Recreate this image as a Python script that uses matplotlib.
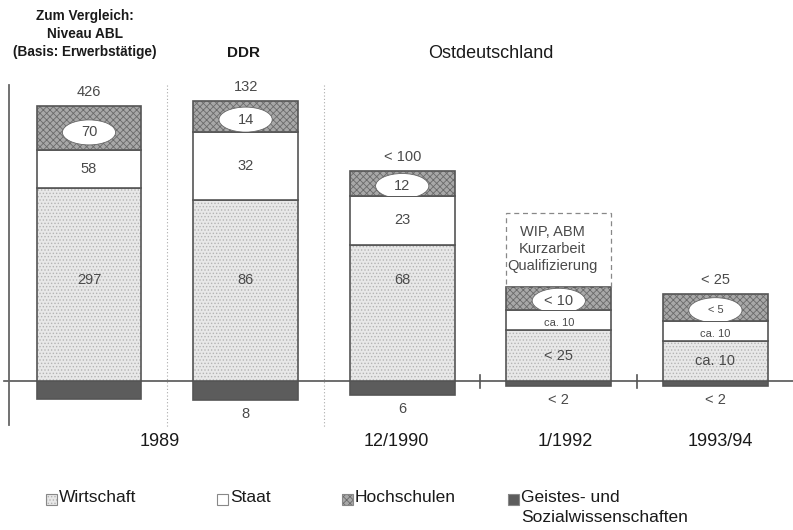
import matplotlib.pyplot as plt
from matplotlib.patches import Rectangle, Ellipse

plt.rcParams['font.family'] = ['Liberation Sans', 'DejaVu Sans']
plt.rcParams['hatch.linewidth'] = 0.6

# Säulen: Niveau ABL 1989, DDR 1989, 12/1990, 1/1992, 1993/94
# Höhen sind schematisch (Grafik nicht maßstäblich), Beschriftungen = Werte in Tsd.
wirtschaft_h = [193, 181, 136, 51, 40]
staat_h = [38, 68, 49, 20, 20]
hochschulen_h = [44, 31, 25, 23, 27]
gsw_h = [18, 19, 14, 5, 5]
sonstige_h = [0, 0, 0, 74, 0]   # WIP, ABM, Kurzarbeit, Qualifizierung

gesamt_lbl = ['426', '132', '< 100', '', '< 25']
wirtschaft_lbl = ['297', '86', '68', '< 25', 'ca. 10']
staat_lbl = ['58', '32', '23', 'ca. 10', 'ca. 10']
hochschulen_lbl = ['70', '14', '12', '< 10', '< 5']
gsw_lbl = ['', '8', '6', '< 2', '< 2']

jahre = ['1989', '12/1990', '1/1992', '1993/94']
jahre_pos = [0.45, 1.96, 3.04, 4.03]

legende = ['Wirtschaft', 'Staat', 'Hochschulen', 'Geistes- und\nSozialwissenschaften']

fig = plt.figure(figsize=(7.93, 5.30), dpi=100)
ax = fig.add_axes([0, 0, 1, 1])
ax.set_xlim(-89 / 156.6, (793 - 89) / 156.6)
ax.set_ylim(-149, 381)
ax.axis('off')

def fx(p):   # pixel -> x
    return (p - 89) / 156.6

def fy(p):   # pixel -> y
    return 381 - p

W = 0.67
EDGE = '#555555'
TXT = '#4a4a4a'
DARK = '#1a1a1a'
styles = {
    'w': dict(color='#e8e8e8', hatch='.....', hc='#b4b4b4'),
    's': dict(color='white', hatch=None, hc='white'),
    'h': dict(color='#a8a8a8', hatch='xxxxx', hc='#6a6a6a'),
    'g': dict(color='#5c5c5c', hatch=None, hc='#5c5c5c'),
}

def seg(x, bottom, h, key):
    st = styles[key]
    ax.bar(x, h, W, bottom=bottom, color=st['color'], hatch=st['hatch'],
           edgecolor=st['hc'], linewidth=0)
    ax.bar(x, h, W, bottom=bottom, fill=False, edgecolor=EDGE, linewidth=1.2)

n = len(wirtschaft_h)
for i in range(n):
    w, s, h, g = wirtschaft_h[i], staat_h[i], hochschulen_h[i], gsw_h[i]
    seg(i, -g, g, 'g')
    seg(i, 0, w, 'w')
    seg(i, w, s, 's')
    seg(i, w + s, h, 'h')
    top = w + s + h

    # Ellipse mit Hochschulwert
    clip = Rectangle((i - W / 2, w + s), W, h, transform=ax.transData)
    el = Ellipse((i, w + s + 0.4 * h), 0.34, 25, facecolor='white',
                 edgecolor='#666666', linewidth=0.6, zorder=3)
    ax.add_patch(el)
    el.set_clip_path(clip)
    ax.text(i, w + s + 0.4 * h, hochschulen_lbl[i], ha='center', va='center',
            fontsize=8 if hochschulen_lbl[i] == '< 5' else 10.5, color=TXT, zorder=4)

    ax.text(i, 101 if w > 120 else w / 2, wirtschaft_lbl[i], ha='center',
            va='center', fontsize=10.5, color=TXT)
    ax.text(i, w + s / 2 - (3 if s < 25 else 0), staat_lbl[i], ha='center',
            va='center', fontsize=8 if s < 25 else 10.5, color=TXT)
    if gesamt_lbl[i]:
        ax.text(i, top + 14, gesamt_lbl[i], ha='center', va='center',
                fontsize=10.5, color=TXT)
    if gsw_lbl[i]:
        ax.text(i, -g - 14, gsw_lbl[i], ha='center', va='center',
                fontsize=10.5, color=TXT)
    if sonstige_h[i]:
        ax.bar(i, sonstige_h[i], W, bottom=top, fill=False, edgecolor='#888888',
               linewidth=0.9, linestyle=(0, (4, 3)))
        ax.text(i - 0.04, top + sonstige_h[i] / 2 + 1,
                'WIP, ABM\nKurzarbeit\nQualifizierung', ha='center', va='center',
                fontsize=10.5, color=TXT, linespacing=1.3)

# Achsen, Trennlinien
ax.plot([fx(4), 793 / 156.6], [0, 0], color=EDGE, lw=1.2, zorder=0)
ax.plot([fx(9), fx(9)], [fy(85), fy(425)], color='#666666', lw=1.3)
for xs in [0.5, 1.5]:
    ax.plot([xs, xs], [fy(85), fy(427)], color='#aaaaaa', lw=0.8, ls=(0, (1, 2)))
for xs in [2.5, 3.5]:
    ax.plot([xs, xs], [-7, 6], color=EDGE, lw=1.2)

# Überschriften
ax.text(fx(85), fy(34), 'Zum Vergleich:\nNiveau ABL\n(Basis: Erwerbstätige)',
        ha='center', va='center', fontsize=9.8, fontweight='bold',
        linespacing=1.4, color=DARK)
ax.text(fx(244), fy(53), 'DDR', ha='center', va='center', fontsize=11,
        fontweight='bold', color=DARK)
ax.text(fx(491), fy(53), 'Ostdeutschland', ha='center', va='center',
        fontsize=13, color=DARK)

for lbl, xp in zip(jahre, jahre_pos):
    ax.text(xp, fy(441), lbl, ha='center', va='center', fontsize=13, color=DARK)

# Legende
leg_x = [46, 217, 342, 508]
for lbl, key, xp in zip(legende, ['w', 's', 'h', 'g'], leg_x):
    st = styles[key]
    y0 = fy(505)
    ax.add_patch(Rectangle((fx(xp), y0), 11 / 156.6, 11, facecolor=st['color'],
                           hatch=st['hatch'], edgecolor=st['hc'], linewidth=0))
    ax.add_patch(Rectangle((fx(xp), y0), 11 / 156.6, 11, fill=False,
                           edgecolor='#888888', linewidth=0.8))
    for k, zeile in enumerate(lbl.split('\n')):
        ax.text(fx(xp + 13), fy(498 + 20 * k), zeile, ha='left', va='center',
                fontsize=12.5, color=DARK)

fig.savefig('out.png', dpi=100)
